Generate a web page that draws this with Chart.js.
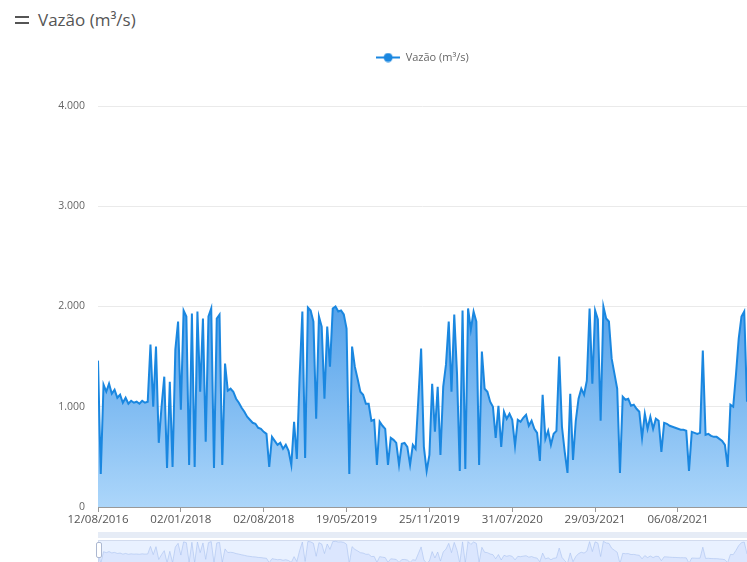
<!DOCTYPE html>
<html>
<head>
<meta charset="utf-8">
<script src="https://cdn.jsdelivr.net/npm/chart.js@4.4.0/dist/chart.umd.min.js"></script>
<style>
  html, body { margin:0; padding:0; background:#fff; overflow:hidden; }
  #wrap { position:relative; width:747px; height:562px; overflow:hidden; }
  #titulo { position:absolute; left:38px; top:8px; font:17px "Open Sans", sans-serif; color:#555; white-space:nowrap; }
  .menu { position:absolute; left:15px; width:14px; height:2px; background:#555; }
  #main { position:absolute; left:0; top:0; }
  #mini { position:absolute; left:0; top:538px; }
  #barra { position:absolute; left:98px; top:532px; width:649px; height:6px; background:#e6ecf6; }
  #alca { position:absolute; left:96px; top:542px; width:4px; height:14px; background:#fff; border:1px solid #acb8d1; border-radius:2px; }
</style>
</head>
<body>
<div id="wrap">
  <div class="menu" style="top:16px"></div>
  <div class="menu" style="top:22px"></div>
  <div id="titulo">Vazão (m³/s)</div>
  <canvas id="main" width="845" height="531"></canvas>
  <div id="barra"></div>
  <canvas id="mini" width="845" height="30"></canvas>
  <div id="alca"></div>
</div>
<script>
const nomeSerie = 'Vazão (m³/s)';
const rotulosX  = ['12/08/2016','02/01/2018','02/08/2018','19/05/2019','25/11/2019','31/07/2020','29/03/2021','06/08/2021'];
const passoRotulo = 30;   // pontos entre rótulos
const ticksY = [0, 1000, 2000, 3000, 4000];
const fluxo = [
  1460, 330,1220,1150,1230,1130,1170,1090,1120,1040,
  1090,1030,1060,1040,1050,1030,1060,1040,1050,1620,
  1000,1600, 640,1000,1300, 390,1250, 400,1570,1850,
   970,1960,1900, 420,1930, 400,1950,1150,1880, 650,
  1900,1980, 390,1880,1920, 420,1430,1160,1180,1150,
  1080,1040, 990, 950, 900, 870, 840, 830, 790, 780,
   750, 730, 400, 700, 660, 620, 640, 580, 620, 560,
   420, 850, 480,1300,1950, 490,1990,1960,1850, 880,
  1900,1800,1080,1800,1400,1980,2000,1950,1960,1920,
  1780, 330,1600,1400,1280,1150,1120,1030,1030, 860,
   870, 420, 850, 810, 780, 420, 690, 670, 640, 420,
   630, 640, 600, 420, 620, 580,1080,1580, 600, 360,
   520,1230, 750,1200, 520,1200,1420,1850,1150,1920,
  1330, 360,1960, 380,1980,1770,1950,1850, 420,1550,
  1180,1150,1050,1000, 690,1010, 600, 950, 880, 930,
   870, 610, 870, 850, 890, 920, 810, 860, 780, 740,
   460,1120, 680, 760, 620, 730, 760,1500, 800, 550,
   340,1130, 470, 860,1080,1180,1120,1260,1980,1230,
  1960,1870, 860,2000,1880,1850,1480,1330,1180, 340,
  1100,1070,1080,1010,1020, 980, 950, 690, 930, 780,
   900, 780, 880, 860, 550, 840, 830, 810, 800, 790,
   780, 770, 770, 760, 360, 750, 740, 730, 740,1560,
   720, 730, 710, 700, 700, 680, 660, 620, 400,1020,
  1000,1320,1680,1900,1950,1050
];

const pontos = fluxo.map((v,i) => ({x:i, y:v}));
const ultimo = fluxo.length - 1;
const fmt = v => String(v).replace(/\B(?=(\d{3})+(?!\d))/g, '.');
const fonte = '"Open Sans", sans-serif';

// ícone da legenda: linha com círculo
const icone = document.createElement('canvas');
icone.width = 24; icone.height = 10;
(function(){
  const c = icone.getContext('2d');
  c.strokeStyle = '#1a87e0'; c.lineWidth = 2;
  c.beginPath(); c.moveTo(0,5); c.lineTo(24,5); c.stroke();
  c.fillStyle = '#1a87e0';
  c.beginPath(); c.arc(12,5,4.5,0,Math.PI*2); c.fill();
})();

// legenda centrada na largura toda do gráfico original, com mais espaço abaixo
const ajusteLegenda = {
  id:'ajusteLegenda',
  beforeInit(chart){
    const fit = chart.legend.fit;
    chart.legend.fit = function(){ fit.bind(chart.legend)(); this.height += 33; };
  },
  afterLayout(chart){
    chart.legend.left = 0;
    chart.legend.right = chart.width;
  }
};

function gradiente(ctx){
  const ch = ctx.chart, a = ch.chartArea;
  if(!a) return '#8ec4f3';
  const y = ch.scales.y;
  const g = ch.ctx.createLinearGradient(0, y.getPixelForValue(2000), 0, a.bottom);
  g.addColorStop(0, '#55a2ea');
  g.addColorStop(1, '#acd6fa');
  return g;
}

new Chart(document.getElementById('main'), {
  type:'line',
  data:{ datasets:[{
    label:nomeSerie, data:pontos, parsing:false,
    borderColor:'#1a87e0', borderWidth:2, pointRadius:0, tension:0,
    fill:'origin', backgroundColor:gradiente
  }]},
  options:{
    responsive:false, animation:false,
    layout:{ padding:{ top:42, right:98, left:0, bottom:0 } },
    plugins:{
      tooltip:{ enabled:false },
      legend:{
        position:'top', align:'center',
        labels:{
          usePointStyle:true, pointStyleWidth:24, boxHeight:10, padding:10,
          font:{ family:fonte, size:11 }, color:'#666',
          generateLabels:() => [{ text:nomeSerie, pointStyle:icone, fontColor:'#666', datasetIndex:0 }]
        }
      }
    },
    scales:{
      x:{
        type:'linear', min:0, max:ultimo,
        afterBuildTicks:s => { s.ticks = rotulosX.map((_,k) => ({value:k*passoRotulo})); },
        afterFit:s => { s.height = 24; },
        ticks:{ callback:v => rotulosX[v/passoRotulo], autoSkip:false, maxRotation:0,
                font:{ family:fonte, size:11.5 }, color:'#555', padding:1 },
        grid:{ drawOnChartArea:false, drawTicks:true, tickLength:5, color:'#999' },
        border:{ color:'#999' }
      },
      y:{
        min:0, max:4000,
        afterBuildTicks:s => { s.ticks = ticksY.map(v => ({value:v})); },
        afterFit:s => { s.width = 98; },
        ticks:{ callback:v => fmt(v), font:{ family:fonte, size:10.5 }, color:'#666', padding:13 },
        grid:{ color:'#eaeaea', drawTicks:false },
        border:{ display:false }
      }
    }
  },
  plugins:[ajusteLegenda]
});

// barra de zoom (miniatura da série)
const fundoMini = {
  id:'fundoMini',
  beforeDraw(chart){
    const a = chart.chartArea, c = chart.ctx;
    c.save();
    c.fillStyle = 'rgba(135,175,255,0.18)';
    c.fillRect(a.left, a.top, a.right-a.left, a.bottom-a.top);
    c.strokeStyle = '#d2dbee';
    c.strokeRect(a.left+0.5, a.top+0.5, a.right-a.left, a.bottom-a.top);
    c.restore();
  }
};

new Chart(document.getElementById('mini'), {
  type:'line',
  data:{ datasets:[{
    data:pontos, parsing:false,
    borderColor:'#a9c1ef', borderWidth:0.6, pointRadius:0, tension:0,
    fill:'origin', backgroundColor:'rgba(143,176,247,0.16)'
  }]},
  options:{
    responsive:false, animation:false,
    layout:{ padding:{ top:2, right:98, left:98, bottom:0 } },
    plugins:{ legend:{display:false}, tooltip:{enabled:false} },
    scales:{
      x:{ type:'linear', min:0, max:ultimo, display:false },
      y:{ min:0, max:2100, display:false }
    }
  },
  plugins:[fundoMini]
});
</script>
</body>
</html>
